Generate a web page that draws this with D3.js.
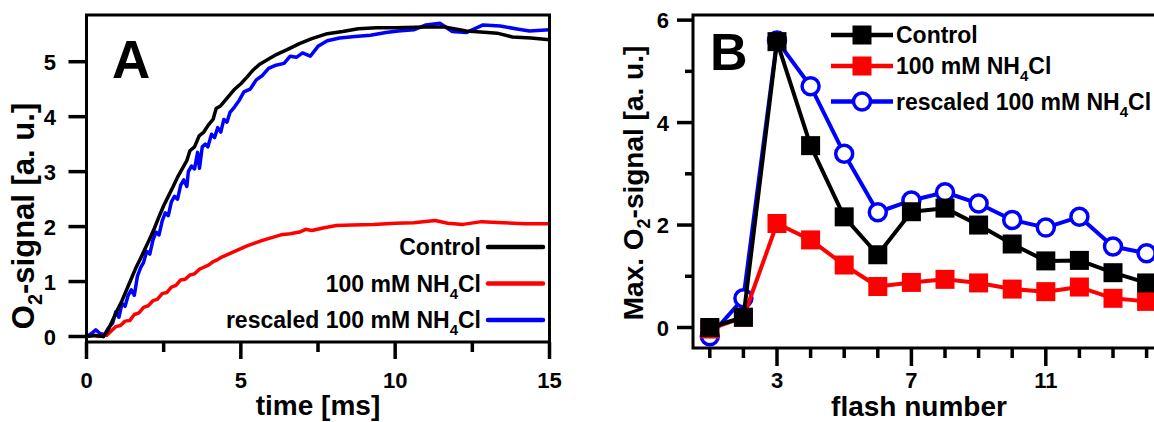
<!DOCTYPE html>
<html><head><meta charset="utf-8">
<script src="https://cdn.jsdelivr.net/npm/d3@7"></script>
<style>
body{margin:0;background:#fff;}
svg{display:block;}
text{font-family:"Liberation Sans",Arial,sans-serif;font-weight:bold;fill:#000;}
</style>
</head><body>
<svg id="c" width="1154" height="422" viewBox="0 0 1154 422"></svg>
<script>
// ---------- Panel A data (time in ms, O2 signal a.u.) ----------
const ctrlT = [0,0.3,0.55,0.7,0.85,1.0,1.15,1.3,1.45,1.6,1.75,1.9,2.05,2.2,2.35,2.5,2.65,2.8,2.95,3.1,3.25,3.35,3.5,3.65,3.8,3.95,4.1,4.2,4.35,4.5,4.65,4.8,5.0,5.2,5.4,5.6,5.9,6.15,6.5,6.9,7.3,7.8,8.3,8.8,9.4,10.0,11.0,11.6,12.3,13.0,13.3,13.8,14.4,15];
const ctrlV = [0,0.02,0.0,0.12,0.3,0.48,0.65,0.85,1.05,1.25,1.42,1.6,1.78,1.97,2.18,2.38,2.55,2.72,2.9,3.05,3.2,3.38,3.45,3.65,3.72,3.85,3.95,4.15,4.2,4.3,4.4,4.5,4.6,4.72,4.85,4.95,5.05,5.13,5.22,5.33,5.42,5.51,5.55,5.6,5.62,5.62,5.63,5.63,5.56,5.53,5.52,5.45,5.43,5.4];

const nhT = [0,0.2,0.4,0.5,0.65,0.8,0.95,1.1,1.25,1.4,1.55,1.7,1.85,2.0,2.15,2.3,2.45,2.6,2.75,2.9,3.05,3.2,3.35,3.5,3.65,3.8,3.95,4.1,4.25,4.4,4.6,4.8,5.0,5.2,5.45,5.7,6.0,6.3,6.6,6.9,7.1,7.3,7.7,8.1,8.6,9.3,10.0,10.6,11.3,11.7,12.2,12.8,13.5,14.2,15];
const nhV = [0,0.03,0.0,0.05,0.02,0.1,0.18,0.2,0.28,0.29,0.4,0.43,0.53,0.56,0.65,0.68,0.78,0.8,0.9,0.93,1.03,1.04,1.12,1.14,1.22,1.26,1.3,1.36,1.4,1.45,1.5,1.55,1.6,1.65,1.7,1.75,1.8,1.85,1.87,1.9,1.95,1.93,1.98,2.02,2.03,2.04,2.06,2.07,2.11,2.06,2.04,2.09,2.07,2.05,2.05];

const resT = [0,0.15,0.3,0.45,0.55,0.7,0.85,0.95,1.05,1.15,1.25,1.35,1.45,1.55,1.65,1.75,1.85,1.95,2.05,2.15,2.25,2.35,2.45,2.55,2.65,2.75,2.85,2.95,3.05,3.15,3.25,3.3,3.4,3.5,3.6,3.66,3.75,3.85,3.93,4.05,4.15,4.25,4.35,4.45,4.55,4.65,4.8,4.95,5.1,5.3,5.5,5.7,5.9,6.1,6.4,6.6,6.8,7.0,7.25,7.5,7.8,8.2,8.7,9.2,9.7,10.1,10.6,11.0,11.45,11.85,12.3,12.85,13.4,13.9,14.35,15];
const resV = [0,0.05,0.12,0.05,0.0,0.15,0.25,0.45,0.35,0.6,0.55,0.75,0.85,0.75,1.1,1.25,1.35,1.55,1.5,1.75,1.9,1.85,2.1,2.25,2.2,2.45,2.55,2.5,2.75,2.85,2.73,3.0,3.1,3.05,3.35,3.06,3.45,3.5,3.45,3.68,3.62,3.8,3.72,3.95,3.9,4.08,4.18,4.3,4.45,4.5,4.67,4.75,4.88,4.93,4.97,5.1,5.08,5.16,5.1,5.28,5.38,5.43,5.46,5.48,5.53,5.56,5.58,5.67,5.7,5.55,5.53,5.67,5.65,5.6,5.56,5.58];

const aXMajor = [0,5,10,15];
const aXMinor = [2.5,7.5,12.5];
const aYMajor = [0,1,2,3,4,5];

// ---------- Panel B data (flash number vs max O2 signal) ----------
const flashes = [1,2,3,4,5,6,7,8,9,10,11,12,13,14];
const ctrlMax = [0.0,0.2,5.58,3.55,2.16,1.42,2.26,2.33,2.0,1.63,1.3,1.31,1.07,0.87];
const nhMax   = [-0.03,0.2,2.03,1.71,1.22,0.8,0.88,0.94,0.87,0.75,0.7,0.79,0.57,0.51];
const resMax  = [-0.17,0.57,5.6,4.71,3.39,2.25,2.48,2.64,2.42,2.1,1.95,2.16,1.58,1.45];

const bXMajor = [3,7,11,15];
const bXMinor = [1,2,4,5,6,8,9,10,12,13,14];
const bYMajor = [0,2,4,6];
const bYMinor = [1,3,5];

const colors = ["#000000","#ff0000","#0000ff"];
const W = 1154;

const svg = d3.select("#c");

function xTicks(scale, y0, values, len, labelY){
  svg.append("g").selectAll("rect").data(values).join("rect")
    .attr("x",v=>scale(v)-1.75).attr("y",y0).attr("width",3.5).attr("height",len)
    .attr("fill","#000");
  if(labelY!=null){
    svg.append("g").selectAll("text").data(values.filter(v=>scale(v)+12<W)).join("text")
      .attr("x",d=>scale(d)).attr("y",labelY).style("text-anchor","middle")
      .style("font-size","22px").text(d=>d);
  }
}
function yTicks(scale, x0, values, len, labelRight){
  svg.append("g").selectAll("rect").data(values).join("rect")
    .attr("x",x0-len).attr("y",v=>scale(v)-1.75).attr("width",len).attr("height",3.5)
    .attr("fill","#000");
  if(labelRight!=null){
    svg.append("g").selectAll("text").data(values).join("text")
      .attr("x",labelRight).attr("y",d=>scale(d)+8).style("text-anchor","end")
      .style("font-size","22px").text(d=>d);
  }
}

// ================= Panel A =================
const xA = d3.scaleLinear().domain([0,15]).range([86.5,549.5]);
const yA = d3.scaleLinear().domain([-0.1,5.85]).range([342,15]);

xTicks(xA, 342, aXMajor, 17, 388);
xTicks(xA, 342, aXMinor, 10, null);
yTicks(yA, 86.5, aYMajor, 18, 56);

const lineA = d3.line().x(d=>xA(d[0])).y(d=>yA(d[1]));
svg.append("clipPath").attr("id","clipA").append("rect")
  .attr("x",86.5).attr("y",15).attr("width",463).attr("height",327);
const gA = svg.append("g").attr("clip-path","url(#clipA)");
const aSeries = [
  {t:nhT, v:nhV, c:colors[1]},
  {t:resT, v:resV, c:colors[2]},
  {t:ctrlT, v:ctrlV, c:colors[0]}
];
aSeries.forEach(s=>{
  gA.append("path").datum(s.t.map((t,i)=>[t,s.v[i]]))
    .attr("d",lineA).attr("fill","none").attr("stroke",s.c)
    .attr("stroke-width",3.5).attr("stroke-linejoin","round");
});
svg.append("rect").attr("x",86.5).attr("y",15).attr("width",463).attr("height",327)
  .attr("fill","none").attr("stroke","#000").attr("stroke-width",3);

svg.append("text").attr("x",112).attr("y",78).style("font-size","53px").text("A");

svg.append("text").attr("x",318).attr("y",415).style("text-anchor","middle")
  .style("font-size","28px").text("time [ms]");
const ytA = svg.append("text").attr("transform","translate(34,216) rotate(-90)")
  .style("text-anchor","middle").style("font-size","31px");
ytA.append("tspan").text("O");
ytA.append("tspan").style("font-size","20px").attr("dy",8).text("2");
ytA.append("tspan").attr("dy",-8).text("-signal [a. u.]");

const legA = [ {y:247, c:colors[0], lab:"Control", sub:null},
               {y:283.5, c:colors[1], lab:"100 mM NH", sub:"4"},
               {y:320, c:colors[2], lab:"rescaled 100 mM NH", sub:"4"} ];
legA.forEach(d=>{
  svg.append("line").attr("x1",488).attr("x2",543).attr("y1",d.y).attr("y2",d.y)
    .attr("stroke",d.c).attr("stroke-width",4.5).attr("stroke-linecap","round");
  const t = svg.append("text").attr("x",481).attr("y",d.y+8).style("text-anchor","end").style("font-size","23px");
  t.append("tspan").text(d.lab);
  if(d.sub){
    t.append("tspan").style("font-size","15px").attr("dy",7).text(d.sub);
    t.append("tspan").attr("dy",-7).text("Cl");
  }
});

// ================= Panel B =================
const xB = d3.scaleLinear().domain([0.5,15.5]).range([693,1197]);
const yB = d3.scaleLinear().domain([-0.4,6.1]).range([348,15]);

xTicks(xB, 348, bXMajor, 18, 388);
xTicks(xB, 348, bXMinor, 10, null);
yTicks(yB, 693, bYMajor, 16, 669);
yTicks(yB, 693, bYMinor, 8, null);

svg.append("rect").attr("x",693).attr("y",15).attr("width",504).attr("height",333)
  .attr("fill","none").attr("stroke","#000").attr("stroke-width",3);

const lineB = d3.line().x(d=>xB(d[0])).y(d=>yB(d[1]));
const bSeries = [
  {v:resMax, c:colors[2], m:"circle"},
  {v:nhMax, c:colors[1], m:"square"},
  {v:ctrlMax, c:colors[0], m:"square"}
];
bSeries.forEach(s=>{
  const pts = flashes.map((f,i)=>[f,s.v[i]]);
  const g = svg.append("g");
  g.append("path").datum(pts).attr("d",lineB).attr("fill","none")
    .attr("stroke",s.c).attr("stroke-width",4).attr("stroke-linejoin","round");
  if(s.m==="square"){
    g.selectAll("rect").data(pts).join("rect")
      .attr("x",d=>xB(d[0])-9.5).attr("y",d=>yB(d[1])-9.5)
      .attr("width",19).attr("height",19).attr("fill",s.c);
  } else {
    g.selectAll("circle").data(pts).join("circle")
      .attr("cx",d=>xB(d[0])).attr("cy",d=>yB(d[1])).attr("r",8.5)
      .attr("fill","#fff").attr("stroke",s.c).attr("stroke-width",3.5);
  }
});

svg.append("text").attr("x",710).attr("y",70).style("font-size","52px").text("B");

svg.append("text").attr("x",919).attr("y",416).style("text-anchor","middle")
  .style("font-size","28px").text("flash number");
const ytB = svg.append("text").attr("transform","translate(643,183) rotate(-90)")
  .style("text-anchor","middle").style("font-size","28px");
ytB.append("tspan").text("Max. O");
ytB.append("tspan").style("font-size","18px").attr("dy",7).text("2");
ytB.append("tspan").attr("dy",-7).text("-signal [a. u.]");

const legB = [ {y:35, c:colors[0], lab:"Control", sub:null, m:"square"},
               {y:66, c:colors[1], lab:"100 mM NH", sub:"4", m:"square"},
               {y:101.5, c:colors[2], lab:"rescaled 100 mM NH", sub:"4", m:"circle"} ];
legB.forEach(d=>{
  svg.append("line").attr("x1",831).attr("x2",893).attr("y1",d.y).attr("y2",d.y)
    .attr("stroke",d.c).attr("stroke-width",4.5);
  if(d.m==="square"){
    svg.append("rect").attr("x",862-9.5).attr("y",d.y-9.5).attr("width",19).attr("height",19).attr("fill",d.c);
  } else {
    svg.append("circle").attr("cx",862).attr("cy",d.y).attr("r",8.5).attr("fill","#fff")
      .attr("stroke",d.c).attr("stroke-width",3.5);
  }
  const t = svg.append("text").attr("x",896).attr("y",d.y+8).style("font-size","23px");
  t.append("tspan").text(d.lab);
  if(d.sub){
    t.append("tspan").style("font-size","15px").attr("dy",7).text(d.sub);
    t.append("tspan").attr("dy",-7).text("Cl");
  }
});
</script>
</body></html>
